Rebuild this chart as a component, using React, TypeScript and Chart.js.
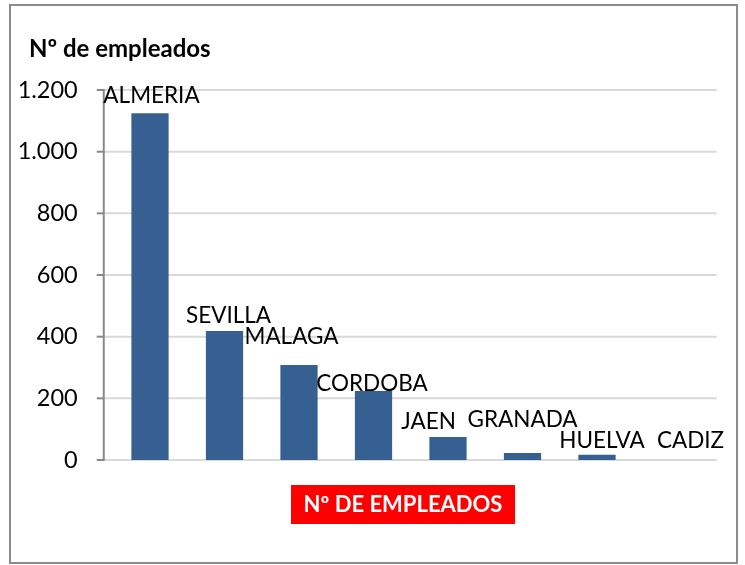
import React, { useEffect, useRef } from "react";
import { Chart, registerables } from "chart.js";

Chart.register(...registerables);

// ---- data ----
const categories = ["ALMERIA", "SEVILLA", "MALAGA", "CORDOBA", "JAEN", "GRANADA", "HUELVA", "CADIZ"];
const empleados = [1125, 418, 308, 224, 75, 23, 17, 0];
const yTicks = [0, 200, 400, 600, 800, 1000, 1200];
const chartTitle = "Nº de empleados";
const axisTitle = "Nº DE EMPLEADOS";

// ---- style / layout ----
const FONT = "Lato, 'Open Sans', sans-serif";
const BAR_COLOR = "#376092";
// hand-moved data labels of the original: [dx from bar centre, baseline dy from bar top]
const labelNudges: number[][] = [
  [1.5, -10], [4, -8], [-7.5, -21], [-1.5, 0], [-19.5, -8], [0, -26], [5, -7], [19, -12],
];

const fmt = (v: number) => String(v).replace(/\B(?=(\d{3})+(?!\d))/g, ".");

const decor = {
  id: "decor",
  beforeDatasetsDraw(chart: any) {
    const { ctx, chartArea, scales } = chart;
    const y = scales.y;
    const gl = chartArea.left - 9;
    const gr = chartArea.right + 8;
    ctx.save();
    ctx.lineWidth = 2;
    ctx.strokeStyle = "#d9d9d9";
    yTicks.forEach((v) => {
      const py = y.getPixelForValue(v);
      ctx.beginPath();
      ctx.moveTo(gl, py);
      ctx.lineTo(gr, py);
      ctx.stroke();
    });
    ctx.strokeStyle = "#888888";
    ctx.beginPath();
    ctx.moveTo(gl, y.getPixelForValue(yTicks[yTicks.length - 1]) - 1);
    ctx.lineTo(gl, y.getPixelForValue(0) + 1);
    ctx.stroke();
    yTicks.forEach((v) => {
      const py = y.getPixelForValue(v);
      ctx.beginPath();
      ctx.moveTo(gl - 7, py);
      ctx.lineTo(gl, py);
      ctx.stroke();
    });
    ctx.restore();
  },
  afterDraw(chart: any) {
    const { ctx } = chart;
    const meta = chart.getDatasetMeta(0);
    ctx.save();
    // data labels (category names)
    ctx.fillStyle = "#000000";
    ctx.font = `22.5px ${FONT}`;
    ctx.textAlign = "center";
    ctx.textBaseline = "alphabetic";
    meta.data.forEach((bar: any, i: number) => {
      const [dx, dy] = labelNudges[i];
      ctx.fillText(categories[i], bar.x + dx, bar.y + dy);
    });
    // chart title
    ctx.textAlign = "left";
    ctx.font = `bold 24px ${FONT}`;
    ctx.fillText(chartTitle, 29, 57);
    // axis title box
    ctx.fillStyle = "#ff0000";
    ctx.fillRect(291, 485, 224, 39);
    ctx.fillStyle = "#ffffff";
    ctx.font = `bold 22px ${FONT}`;
    ctx.textAlign = "center";
    ctx.textBaseline = "middle";
    ctx.fillText(axisTitle, 403, 505);
    // outer frame
    ctx.strokeStyle = "#8c8c8c";
    ctx.lineWidth = 2;
    ctx.strokeRect(10, 5, 727, 558);
    ctx.restore();
  },
};

export default function App() {
  const ref = useRef<HTMLCanvasElement | null>(null);
  useEffect(() => {
    if (!ref.current) return;
    const chart = new Chart(ref.current, {
      type: "bar",
      data: {
        labels: categories,
        datasets: [
          {
            label: chartTitle,
            data: empleados,
            backgroundColor: BAR_COLOR,
            borderWidth: 0,
            categoryPercentage: 1,
            barPercentage: 0.5,
          },
        ],
      },
      options: {
        responsive: false,
        animation: false,
        devicePixelRatio: 1,
        layout: { padding: { left: 0, right: 36.25, top: 90, bottom: 105 } },
        plugins: { legend: { display: false }, tooltip: { enabled: false }, title: { display: false } },
        scales: {
          x: { display: false, offset: true, grid: { display: false } },
          y: {
            min: 0,
            max: 1200,
            grid: { display: false, drawTicks: false },
            border: { display: false },
            afterBuildTicks: (axis: any) => {
              axis.ticks = yTicks.map((v) => ({ value: v }));
            },
            afterFit: (scale: any) => {
              scale.width = 112.75;
            },
            ticks: {
              padding: 35,
              color: "#000000",
              font: { family: FONT, size: 23.5 },
              callback: (v: any) => fmt(Number(v)),
            },
          },
        },
      },
      plugins: [decor],
    });
    return () => chart.destroy();
  }, []);
  return (
    <canvas
      ref={ref}
      width={745}
      height={565}
      style={{ position: "fixed", left: 0, top: 0, width: 745, height: 565, background: "#ffffff" }}
    />
  );
}
